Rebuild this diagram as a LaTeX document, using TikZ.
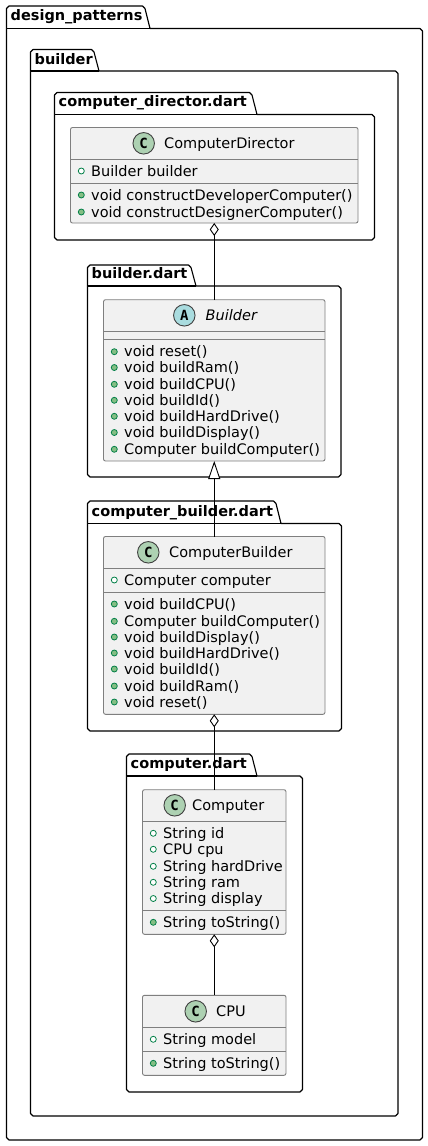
\documentclass[tikz,border=0pt]{standalone}
\usepackage{fontspec}
\setmainfont{DejaVu Sans}
\newfontfamily\badgefont{DejaVu Sans Mono}
\usetikzlibrary{arrows.meta}
\definecolor{boxfill}{HTML}{F1F1F1}
\definecolor{boxline}{HTML}{7F7F7F}
\definecolor{circC}{HTML}{ADD1B2}
\definecolor{circA}{HTML}{A9DCDF}
\definecolor{visline}{HTML}{038048}
\definecolor{visfill}{HTML}{84BE84}
\tikzset{
  pkgline/.style={draw=black,line width=1.1pt,fill=white,line join=round},
  pkgtitle/.style={anchor=base west,inner sep=0pt,font=\fontsize{14.5}{14.5}\selectfont\bfseries},
  classbox/.style={draw=boxline,fill=boxfill,line width=.9pt,rounded corners=2pt,inner sep=0pt,outer sep=0pt},
  sepline/.style={draw=boxline,line width=.9pt},
  member/.style={anchor=base west,inner sep=0pt,font=\fontsize{14.5}{14.5}\selectfont},
  ctitle/.style={anchor=base west,inner sep=0pt,font=\fontsize{14.5}{14.5}\selectfont},
  badge/.style={circle,draw=black!75,line width=.9pt,minimum size=21.5pt,inner sep=0pt,font=\fontsize{14}{14}\badgefont\bfseries},
  pubattr/.style={circle,draw=visline,fill=white,line width=.8pt,minimum size=6pt,inner sep=0pt},
  pubmeth/.style={circle,draw=visline,fill=visfill,line width=.8pt,minimum size=6pt,inner sep=0pt},
  assoc/.style={draw=black,line width=1pt},
  agg/.style={assoc,{Diamond[fill=white,length=13pt,width=9pt,line width=.9pt]}-},
  gen/.style={assoc,{Triangle[fill=white,length=18pt,width=12pt,line width=.9pt]}-},
}
% left, tabtop, tabright, bodytop, right, bottom, text baseline, title
\newcommand{\pkgbox}[8]{%
  \draw[pkgline] (#1,#4) -- (#1,{#2+2.5}) -- ++(2.5,-2.5) -- ({#3-7.5},#2) -- ++(2.5,2.5) -- (#3,#4)
     -- ({#5-2.5},#4) -- ++(2.5,2.5) -- (#5,{#6-2.5}) -- ++(-2.5,2.5) -- ({#1+2.5},#6) -- ++(-2.5,-2.5) -- cycle;
  \draw[pkgline] (#1,#4) -- (#3,#4);
  \node[pkgtitle] at ({#1+4},#7) {#8};
}
% name, left, top, right, bottom
\newcommand{\classrect}[5]{%
  \node[classbox,minimum width={(#4-#2)*1pt},minimum height={(#5-#3)*1pt}] (#1) at ({(#2+#4)/2},{(#3+#5)/2}) {};
}
\newcommand{\mattr}[3]{\node[pubattr] at ({#1+10.8},{#2-5}) {}; \node[member] at ({#1+20.5},#2) {#3};}
\newcommand{\mmeth}[3]{\node[pubmeth] at ({#1+10.8},{#2-5}) {}; \node[member] at ({#1+20.5},#2) {#3};}
\begin{document}
\begin{tikzpicture}[x=1pt,y=-1pt]
\useasboundingbox (0,0) rectangle (428,1146);
\fill[white] (0,0) rectangle (428,1146);
\pkgbox{6.5}{6}{150}{28.5}{422.5}{1140}{20.7}{design\_patterns}
\pkgbox{30.5}{49.5}{99}{71}{398}{1116}{64}{builder}
\pkgbox{54.5}{92.5}{257}{114.5}{374.5}{240}{106.7}{computer\_director.dart}
\pkgbox{87.5}{265}{196}{286}{341}{477}{278.7}{builder.dart}
\pkgbox{87.5}{501}{281}{523.5}{341.5}{731}{516}{computer\_builder.dart}
\pkgbox{126.5}{754}{257}{776}{302.5}{1092}{768.3}{computer.dart}

% ComputerDirector
\classrect{cd}{70.5}{127.5}{358}{223}
\draw[sepline] (70.5,159.3) -- (358,159.3) (70.5,183.3) -- (358,183.3);
\node[badge,fill=circC] (cdb) at (143.7,143.3) {C};
\node[ctitle] (cdt) at (164,148) {ComputerDirector};
\mattr{70.5}{176}{Builder builder}
\mmeth{70.5}{200}{void constructDeveloperComputer()}
\mmeth{70.5}{217}{void constructDesignerComputer()}

% Builder
\classrect{bu}{103.5}{299.7}{325}{461}
\draw[sepline] (103.5,331.3) -- (325,331.3) (103.5,339) -- (325,339);
\node[badge,fill=circA] (bub) at (184.3,315.3) {A};
\node[ctitle,font=\fontsize{14.5}{14.5}\selectfont\itshape] (but) at (205.5,320) {Builder};
\mmeth{103.5}{356.7}{void reset()}
\mmeth{103.5}{372.5}{void buildRam()}
\mmeth{103.5}{389.3}{void buildCPU()}
\mmeth{103.5}{405.3}{void buildId()}
\mmeth{103.5}{421.3}{void buildHardDrive()}
\mmeth{103.5}{437.5}{void buildDisplay()}
\mmeth{103.5}{454.3}{Computer buildComputer()}

% ComputerBuilder
\classrect{cb}{103.5}{536.5}{325}{714.3}
\draw[sepline] (103.5,568.3) -- (325,568.3) (103.5,592.5) -- (325,592.5);
\node[badge,fill=circC] (cbb) at (148.3,552.3) {C};
\node[ctitle] (cbt) at (169,557.3) {ComputerBuilder};
\mattr{103.5}{585}{Computer computer}
\mmeth{103.5}{609}{void buildCPU()}
\mmeth{103.5}{626.3}{Computer buildComputer()}
\mmeth{103.5}{642}{void buildDisplay()}
\mmeth{103.5}{658}{void buildHardDrive()}
\mmeth{103.5}{674}{void buildId()}
\mmeth{103.5}{691}{void buildRam()}
\mmeth{103.5}{707}{void reset()}

% Computer
\classrect{co}{142.5}{789.7}{286}{934.3}
\draw[sepline] (142.5,821.3) -- (286,821.3) (142.5,910.7) -- (286,910.7);
\node[badge,fill=circC] (cob) at (174.7,805.3) {C};
\node[ctitle] (cot) at (192,810) {Computer};
\mattr{142.5}{838.3}{String id}
\mattr{142.5}{854.3}{CPU cpu}
\mattr{142.5}{871.3}{String hardDrive}
\mattr{142.5}{887.3}{String ram}
\mattr{142.5}{903.5}{String display}
\mmeth{142.5}{927.3}{String toString()}

% CPU
\classrect{cp}{142.5}{995.3}{286}{1075.3}
\draw[sepline] (142.5,1027.3) -- (286,1027.3) (142.5,1051.3) -- (286,1051.3);
\node[badge,fill=circC] (cpb) at (195.7,1011.3) {C};
\node[ctitle] (cpt) at (216,1016) {CPU};
\mattr{142.5}{1044.3}{String model}
\mmeth{142.5}{1068.3}{String toString()}

% connectors
\draw[agg] (cd.south) -- (bu.north);
\draw[gen] (bu.south) -- (cb.north);
\draw[agg] (cb.south) -- (co.north);
\draw[agg] (co.south) -- (cp.north);
\end{tikzpicture}
\end{document}
